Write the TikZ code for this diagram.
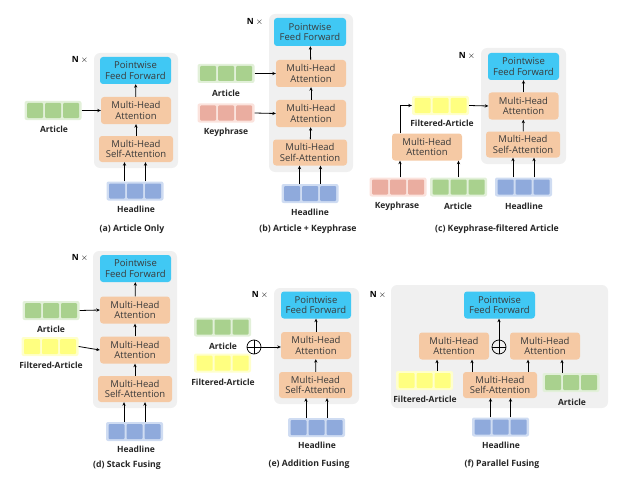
\documentclass[tikz,border=0pt]{standalone}
\usepackage{fontspec}
\setmainfont{Open Sans}
\usetikzlibrary{arrows.meta}

\definecolor{bggray}{HTML}{F0F0F0}
\definecolor{ffblue}{HTML}{40C8F4}
\definecolor{attorange}{HTML}{F5C9A4}
\definecolor{txtgray}{HTML}{3A3A3A}
\definecolor{grnin}{HTML}{A9D18E}
\definecolor{grnout}{HTML}{E2F0D9}
\definecolor{pnkin}{HTML}{EAADA0}
\definecolor{pnkout}{HTML}{FBE3DD}
\definecolor{bluin}{HTML}{8FAADC}
\definecolor{bluout}{HTML}{CFDCF2}
\definecolor{ylwin}{HTML}{FFFF80}
\definecolor{ylwout}{HTML}{FFFFCC}

\tikzset{
	grayback/.style = {fill=bggray, rounded corners=6pt},
	ffbox/.style = {fill=ffblue, rounded corners=3pt, minimum width=71pt, minimum height=27pt,
		align=center, inner sep=0pt, text=txtgray, font=\fontsize{9.5}{10.6}\selectfont},
	attbox/.style = {ffbox, fill=attorange, minimum width=70pt},
	sabox/.style = {attbox, minimum width=74pt, minimum height=26pt},
	strip/.style = {rounded corners=2pt, minimum width=57pt, minimum height=19pt, inner sep=0pt},
	cell/.style = {rounded corners=1pt, minimum width=16pt, minimum height=15pt, inner sep=0pt},
	lbl/.style = {font=\bfseries\fontsize{8.5}{9}\selectfont, text=black!85},
	caption/.style = {font=\bfseries\fontsize{8.7}{9}\selectfont, text=black!85},
	nrep/.style = {font=\fontsize{8.5}{9}\selectfont},
	addop/.style = {circle, draw, line width=0.7pt, minimum size=14pt, inner sep=0pt},
	arr/.style = {-{Stealth[length=3.5pt,width=3.2pt]}, line width=0.8pt}
}

% strip of three cells: name, centre, cell colour, outer colour
\newcommand{\seqstrip}[4]{%
	\node[strip, fill=#4] (#1) at (#2) {};
	\foreach \k in {-1,0,1}
	\node[cell, fill=#3] at ([xshift=\k*18pt]#1.center) {};
}
\newcommand{\nrepeat}[2]{\node[nrep] (#1) at (#2) {\textbf{N} {\small$\times$}};}
\newcommand{\plusmark}[1]{%
	\draw[line width=0.7pt] (#1.north) -- (#1.south) (#1.west) -- (#1.east);
}

\begin{document}
\begin{tikzpicture}[x=1pt, y=-1pt]
	\useasboundingbox (0,0) rectangle (627,487);

	% (a) Article Only
	\fill[grayback] (94,53) rectangle (178,168);
	\nrepeat{na}{80,60}
	\node[ffbox] (ffa) at (135.5,70.5) {Pointwise\\Feed Forward};
	\node[attbox] (mhaa) at (136,110.5) {Multi-Head\\Attention};
	\node[sabox] (saa) at (136,149) {Multi-Head\\Self-Attention};
	\seqstrip{arta}{53,110.5}{grnin}{grnout}
	\node[lbl] (artla) at (54,129) {Article};
	\seqstrip{hla}{135,191}{bluin}{bluout}
	\node[lbl] (hlla) at (136,209) {Headline};
	\node[caption] (capa) at (132,229) {(a) Article Only};
	\draw[arr] (saa) -- (mhaa);
	\draw[arr] (mhaa) -- (ffa);
	\draw[arr] (arta.east) -- (mhaa.west);
	\foreach \s in {-10.5,10.5}
	\draw[arr] ([xshift=\s pt]hla.north) -- ([xshift=\s pt]hla.north |- saa.south);

	% (b) Article + Keyphrase
	\fill[grayback] (269,14) rectangle (353,172);
	\nrepeat{nb}{255,22}
	\node[ffbox, minimum width=72pt, minimum height=28pt] (ffb) at (310,32) {Pointwise\\Feed Forward};
	\node[attbox] (mhbb) at (311,73.5) {Multi-Head\\Attention};
	\node[attbox] (mhab) at (311,113.5) {Multi-Head\\Attention};
	\node[sabox] (sab) at (310,152.5) {Multi-Head\\Self-Attention};
	\seqstrip{artb}{226,73.5}{grnin}{grnout}
	\node[lbl] (artlb) at (226,93) {Article};
	\seqstrip{kpb}{226,113}{pnkin}{pnkout}
	\node[lbl] (kplb) at (226,132) {Keyphrase};
	\seqstrip{hlb}{310,193.5}{bluin}{bluout}
	\node[lbl] (hllb) at (310,212) {Headline};
	\node[caption] (capb) at (308,229) {(b) Article + Keyphrase};
	\draw[arr] (sab) -- (mhab);
	\draw[arr] (mhab) -- (mhbb);
	\draw[arr] (mhbb) -- (ffb);
	\draw[arr] (artb.east) -- (mhbb.west);
	\draw[arr] (kpb.east) -- (mhab.west);
	\foreach \s in {-10.5,10.5}
	\draw[arr] ([xshift=\s pt]hlb.north) -- ([xshift=\s pt]hlb.north |- sab.south);

	% (c) Keyphrase-filtered Article
	\fill[grayback] (481,48) rectangle (566,164);
	\nrepeat{nc}{467,56}
	\node[ffbox] (ffc) at (523.5,66.5) {Pointwise\\Feed Forward};
	\node[attbox] (mhac) at (523.5,106) {Multi-Head\\Attention};
	\node[sabox] (sac) at (523,144.5) {Multi-Head\\Self-Attention};
	\node[attbox] (filtc) at (427,147) {Multi-Head\\Attention};
	\seqstrip{fac}{440.5,105.5}{ylwin}{ylwout}
	\node[lbl] (falc) at (442,123) {Filtered-Article};
	\seqstrip{kpc}{398,187}{pnkin}{pnkout}
	\node[lbl] (kplc) at (397,206) {Keyphrase};
	\seqstrip{artc}{458.5,187}{grnin}{grnout}
	\node[lbl] (artlc) at (458,206) {Article};
	\seqstrip{hlc}{523.5,187}{bluin}{bluout}
	\node[lbl] (hllc) at (524,206) {Headline};
	\node[caption] (capc) at (497,229) {(c) Keyphrase-filtered Article};
	\draw[arr] (sac) -- (mhac);
	\draw[arr] (mhac) -- (ffc);
	\draw[arr] (fac.east) -- (mhac.west);
	\draw[arr] ([xshift=-27pt]filtc.north) |- (fac.west);
	\draw[arr] ([xshift=2pt]kpc.north) -- ([xshift=2pt]kpc.north |- filtc.south);
	\draw[arr] (artc.north) -- (artc.north |- filtc.south);
	\foreach \s in {-10.5,10.5}
	\draw[arr] ([xshift=\s pt]hlc.north) -- ([xshift=\s pt]hlc.north |- sac.south);

	% (d) Stack Fusing
	\fill[grayback] (93,251) rectangle (177,408);
	\nrepeat{nd}{80,258}
	\node[ffbox] (ffd) at (135.5,268.5) {Pointwise\\Feed Forward};
	\node[attbox] (mhbd) at (135,310) {Multi-Head\\Attention};
	\node[attbox] (mhad) at (135,350) {Multi-Head\\Attention};
	\node[sabox] (sad) at (135,389) {Multi-Head\\Self-Attention};
	\seqstrip{artd}{51,310.5}{grnin}{grnout}
	\node[lbl] (artld) at (51,329) {Article};
	\seqstrip{fad}{50,346.5}{ylwin}{ylwout}
	\node[lbl] (fald) at (51,365) {Filtered-Article};
	\seqstrip{hld}{134.5,431.5}{bluin}{bluout}
	\node[lbl] (hlld) at (136,449) {Headline};
	\node[caption] (capd) at (127,465) {(d) Stack Fusing};
	\draw[arr] (sad) -- (mhad);
	\draw[arr] (mhad) -- (mhbd);
	\draw[arr] (mhbd) -- (ffd);
	\draw[arr] (artd.east) -- (mhbd.west);
	\draw[arr] (fad.east) -- (mhad.west);
	\foreach \s in {-10.5,10.5}
	\draw[arr] ([xshift=\s pt]hld.north) -- ([xshift=\s pt]hld.north |- sad.south);

	% (e) Addition Fusing
	\fill[grayback] (274,288) rectangle (359,404);
	\nrepeat{ne}{260,295}
	\node[ffbox, minimum width=70pt] (ffe) at (316,305) {Pointwise\\Feed Forward};
	\node[attbox] (mhae) at (316,345.5) {Multi-Head\\Attention};
	\node[sabox, minimum width=73pt] (sae) at (315.5,385) {Multi-Head\\Self-Attention};
	\seqstrip{arte}{222.5,327}{grnin}{grnout}
	\node[lbl] (artle) at (223,346) {Article};
	\seqstrip{fae}{222.5,363}{ylwin}{ylwout}
	\node[lbl] (fale) at (223,382) {Filtered-Article};
	\node[addop] (adde) at (254,347) {};
	\plusmark{adde}
	\seqstrip{hle}{316.5,427.5}{bluin}{bluout}
	\node[lbl] (hlle) at (317,445) {Headline};
	\node[caption] (cape) at (309,464) {(e) Addition Fusing};
	\draw[arr] (sae) -- (mhae);
	\draw[arr] (mhae) -- (ffe);
	\draw[arr] (adde.east) -- (adde.east -| mhae.west);
	\foreach \s in {-10.5,10.5}
	\draw[arr] ([xshift=\s pt]hle.north) -- ([xshift=\s pt]hle.north |- sae.south);

	% (f) Parallel Fusing
	\fill[grayback] (391,285) rectangle (608,408);
	\nrepeat{nf}{378,295}
	\node[ffbox] (fff) at (499.5,305) {Pointwise\\Feed Forward};
	\node[attbox] (mhlf) at (454,346) {Multi-Head\\Attention};
	\node[attbox] (mhrf) at (545,346) {Multi-Head\\Attention};
	\node[addop] (addf) at (499,347) {};
	\plusmark{addf}
	\node[sabox] (saf) at (500,385) {Multi-Head\\Self-Attention};
	\seqstrip{faf}{424.5,380.5}{ylwin}{ylwout}
	\node[lbl] (falf) at (425,399) {Filtered-Article};
	\seqstrip{artf}{571,382.5}{grnin}{grnout}
	\node[lbl] (artlf) at (572,402) {Article};
	\seqstrip{hlf}{500.5,427}{bluin}{bluout}
	\node[lbl] (hllf) at (501,445) {Headline};
	\node[caption] (capf) at (502,464) {(f) Parallel Fusing};
	\draw[arr] (addf.north) -- (addf.north |- fff.south);
	\draw[arr] ([xshift=-28pt]saf.north) -- ([xshift=-28pt]saf.north |- mhlf.south);
	\draw[arr] ([xshift=28pt]saf.north) -- ([xshift=28pt]saf.north |- mhrf.south);
	\draw[arr] ([xshift=12.5pt]faf.north) -- ([xshift=12.5pt]faf.north |- mhlf.south);
	\draw[arr] ([xshift=-9pt]artf.north) -- ([xshift=-9pt]artf.north |- mhrf.south);
	\foreach \s in {-10,10}
	\draw[arr] ([xshift=\s pt]hlf.north) -- ([xshift=\s pt]hlf.north |- saf.south);
\end{tikzpicture}
\end{document}
